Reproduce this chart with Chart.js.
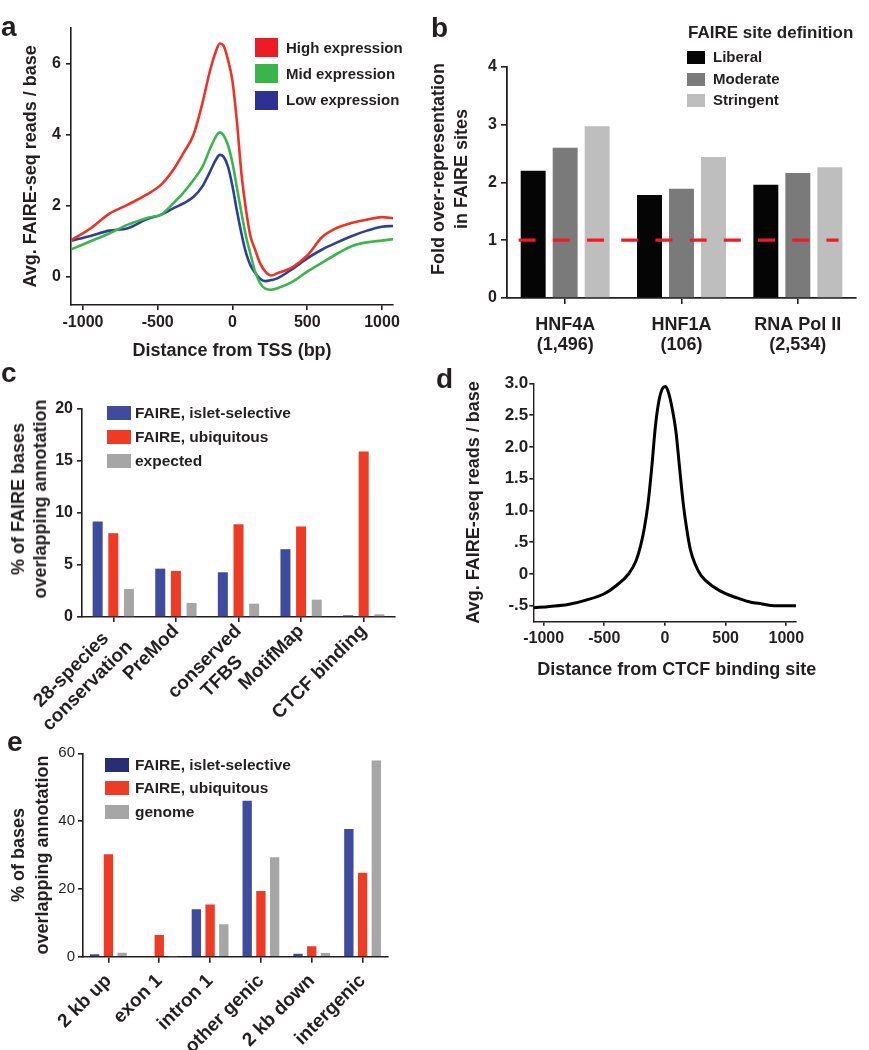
<!DOCTYPE html>
<html><head><meta charset="utf-8">
<title>FAIRE-seq figure</title>
<script src="https://cdn.jsdelivr.net/npm/chart.js@4.4.1/dist/chart.umd.min.js"></script>
<style>
html,body{margin:0;padding:0;background:#fff}
body{position:relative;width:869px;height:1050px;overflow:hidden;font-family:"Liberation Sans",Arial,Helvetica,sans-serif;color:#231f20}
canvas{position:absolute}
.lbl{position:absolute;font-weight:bold;white-space:nowrap}
.sw{position:absolute}
.letter{position:absolute;font-weight:bold;font-size:28px;line-height:28px}
.vt{position:absolute;font-weight:bold;font-size:18px;line-height:23px;text-align:center;white-space:nowrap;transform:translate(-50%,-50%) rotate(-90deg)}
.ht{position:absolute;font-weight:bold;font-size:18px;line-height:22px;white-space:nowrap;transform:translate(-50%,-50%)}
</style></head>
<body>
<canvas id="ca" width="420" height="370" style="left:0;top:0"></canvas>
<canvas id="cb" width="449" height="360" style="left:420px;top:0"></canvas>
<canvas id="cc" width="420" height="372" style="left:0;top:370px"></canvas>
<canvas id="cd" width="449" height="322" style="left:420px;top:360px"></canvas>
<canvas id="ce" width="420" height="330" style="left:0;top:720px"></canvas>
<script>
// ---------------- DATA ----------------
// Panel a: average FAIRE-seq reads around TSS by expression level
const aNames = ['High expression', 'Mid expression', 'Low expression'];
const aPos = [-1075,-950,-825,-700,-575,-475,-400,-325,-260,-200,-150,-110,-85,-60,-30,0,30,60,90,120,150,185,220,260,300,400,500,600,700,800,900,1000,1075];
const aHigh = [1.04,1.36,1.77,2.03,2.31,2.6,2.98,3.5,4.0,4.9,5.8,6.35,6.56,6.5,6.1,5.5,4.35,2.9,1.9,1.15,0.78,0.38,0.15,0.04,0.1,0.27,0.6,1.12,1.38,1.52,1.61,1.68,1.65];
const aMid = [0.78,1.0,1.22,1.47,1.65,1.76,2.05,2.38,2.73,3.1,3.6,3.95,4.06,3.98,3.7,3.2,2.5,1.8,1.15,0.65,0.17,-0.18,-0.33,-0.36,-0.32,-0.14,0.15,0.4,0.65,0.87,0.97,1.02,1.06];
const aLow = [1.02,1.15,1.3,1.37,1.62,1.75,1.92,2.07,2.25,2.55,2.96,3.3,3.43,3.38,3.1,2.55,1.85,1.22,0.68,0.33,0.12,-0.05,-0.12,-0.09,-0.04,0.22,0.52,0.77,0.97,1.15,1.3,1.41,1.43];
const aXTicks = [-1000,-500,0,500,1000];
const aYTicks = [0,2,4,6];

// Panel b: fold over-representation in FAIRE sites
const bCats = [['HNF4A','(1,496)'],['HNF1A','(106)'],['RNA Pol II','(2,534)']];
const bNames = ['Liberal','Moderate','Stringent'];
const bLiberal = [2.2,1.78,1.96];
const bModerate = [2.6,1.89,2.16];
const bStringent = [2.97,2.44,2.26];
const bBaseline = 1;            // expected (no enrichment) level
const bBaseX = [-0.4, 2.35];    // extent of the baseline, in category units
const bYTicks = [0,1,2,3,4];

// Panel c: % of FAIRE bases overlapping annotation
const cCats = [['28-species','conservation'],'PreMod',['conserved','TFBS'],'MotifMap','CTCF binding'];
const cNames = ['FAIRE, islet-selective','FAIRE, ubiquitous','expected'];
const cSelective = [9.18,4.65,4.3,6.52,0.16];
const cUbiquitous = [8.06,4.43,8.92,8.7,15.92];
const cExpected = [2.7,1.35,1.28,1.67,0.26];
const cYTicks = [0,5,10,15,20];

// Panel d: FAIRE-seq reads around CTCF binding sites
const dPos = [-1080,-950,-800,-650,-500,-400,-300,-240,-200,-170,-140,-110,-80,-50,-20,5,30,60,90,120,150,180,210,250,300,400,500,600,700,800,900,1000,1080];
const dVal = [-0.53,-0.51,-0.48,-0.41,-0.31,-0.18,0.0,0.2,0.45,0.72,1.1,1.65,2.3,2.72,2.92,2.95,2.85,2.6,2.25,1.68,1.12,0.7,0.38,0.15,-0.03,-0.2,-0.31,-0.38,-0.44,-0.47,-0.5,-0.5,-0.5];
const dXTicks = [-1000,-500,0,500,1000];
const dYTicks = [-0.5,0,0.5,1,1.5,2,2.5,3];
const dYLabels = ['-.5','0','.5','1.0','1.5','2.0','2.5','3.0'];

// Panel e: % of bases overlapping annotation
const eCats = ['2 kb up','exon 1','intron 1','other genic','2 kb down','intergenic'];
const eNames = ['FAIRE, islet-selective','FAIRE, ubiquitous','genome'];
const eSelective = [0.7,0,14.0,46.0,0.9,37.7];
const eUbiquitous = [30.2,6.4,15.4,19.4,3.05,24.8];
const eGenome = [1.2,0.1,9.6,29.3,1.1,57.9];
const eYTicks = [0,20,40,60];

// ---------------- STYLE ----------------
const INK = '#231f20';
const FONT = "'Liberation Sans', Arial, Helvetica, sans-serif";
Chart.defaults.font.family = FONT;
Chart.defaults.color = INK;
const aColors = ['#ee3224','#3db54a','#2e3f98'];
const aLegendColors = ['#ed1c24','#39b54a','#2e3192'];
const bColors = ['#050505','#7a7a7a','#bebebe'];
const cColors = ['#3f4c9e','#ee3b25','#a6a6a6'];
const eLegendColors = ['#272e75','#ee3b25','#a6a6a6'];

function bord(w){ return {display:true,color:INK,width:w||1.6}; }
function grd(tl){ return {display:true,drawOnChartArea:false,drawTicks:true,color:INK,lineWidth:1.6,tickLength:tl,offset:false}; }
function fixTicks(list){ return s => { s.ticks = list.map(v => ({value:v})); }; }
const baseOpts = {responsive:false, animation:false, devicePixelRatio:1,
  plugins:{legend:{display:false}, tooltip:{enabled:false}}};

const measureCtx = document.createElement('canvas').getContext('2d');
function centerLines(label, font){
  if (!Array.isArray(label)) return label;
  measureCtx.font = font;
  const w = label.map(l => measureCtx.measureText(l).width);
  const mx = Math.max(...w), sp = measureCtx.measureText(' ').width;
  return label.map((l,i) => l + ' '.repeat(Math.round((mx - w[i]) / 2 / sp)));
}

// ---------------- PANEL A ----------------
new Chart(document.getElementById('ca'), {
  type:'line',
  data:{datasets:[aHigh,aMid,aLow].map((arr,k)=>({
    label:aNames[k], data:aPos.map((x,i)=>({x, y:arr[i]})),
    borderColor:aColors[k], borderWidth:2.6, pointRadius:0, fill:false,
    cubicInterpolationMode:'monotone'}))},
  options:Object.assign({}, baseOpts, {
    layout:{padding:{left:0, top:27.8, right:26.8, bottom:0}},
    scales:{
      x:{type:'linear', min:-1080, max:1075, afterBuildTicks:fixTicks(aXTicks), afterFit:s=>{s.height=65;},
        ticks:{font:{size:16,weight:'bold'}, color:INK, padding:3, maxRotation:0, autoSkip:false, callback:v=>String(v)},
        grid:grd(5), border:bord(1.6),
        title:{display:true, text:'Distance from TSS (bp)', font:{size:18,weight:'bold'}, color:INK, padding:{top:0,bottom:8}}},
      y:{type:'linear', min:-0.79, max:7, afterBuildTicks:fixTicks(aYTicks), afterFit:s=>{s.width=71;},
        ticks:{font:{size:16,weight:'bold'}, color:INK, padding:5, callback:v=>String(v)},
        grid:grd(5), border:bord(1.6),
        title:{display:true, text:'Avg. FAIRE-seq reads / base', font:{size:18,weight:'bold'}, color:INK, padding:{top:20,bottom:0}}}
    }
  })
});

// ---------------- PANEL B ----------------
// dashed reference line at the baseline value, positioned through the chart's own scales
const baselinePlugin = {
  id:'bBaseline',
  afterDatasetsDraw(chart){
    const {ctx} = chart, xs = chart.scales.x, ys = chart.scales.y;
    const yPix = ys.getPixelForValue(bBaseline);
    ctx.save();
    ctx.strokeStyle = '#ed1c24'; ctx.lineWidth = 3.2; ctx.setLineDash([17,17.2]);
    ctx.beginPath();
    ctx.moveTo(xs.getPixelForValue(bBaseX[0]), yPix);
    ctx.lineTo(xs.getPixelForValue(bBaseX[1]), yPix);
    ctx.stroke();
    ctx.restore();
  }
};
new Chart(document.getElementById('cb'), {
  type:'bar',
  data:{labels:bCats, datasets:[bLiberal,bModerate,bStringent].map((arr,k)=>({
    label:bNames[k], data:arr, backgroundColor:bColors[k],
    categoryPercentage:0.825, barPercentage:0.78, borderWidth:0}))},
  options:Object.assign({}, baseOpts, {
    layout:{padding:{left:0, top:66.7, right:13, bottom:0}},
    scales:{
      x:{type:'category', afterFit:s=>{s.height=62;},
        ticks:{font:{size:18,weight:'bold',lineHeight:1.1}, color:INK, padding:11, maxRotation:0, autoSkip:false},
        grid:grd(6), border:bord(1.8)},
      y:{type:'linear', min:0, max:4, afterBuildTicks:fixTicks(bYTicks), afterFit:s=>{s.width=87;},
        ticks:{font:{size:16,weight:'bold'}, color:INK, padding:4, callback:v=>String(v)},
        grid:grd(6), border:bord(1.8)}
    }
  }),
  plugins:[baselinePlugin]
});

// ---------------- PANEL C ----------------
const rotFont = {size:19, weight:'bold'};
new Chart(document.getElementById('cc'), {
  type:'bar',
  data:{labels:cCats, datasets:[cSelective,cUbiquitous,cExpected].map((arr,k)=>({
    label:cNames[k], data:arr, backgroundColor:cColors[k], categoryPercentage:0.75, barPercentage:0.64, borderWidth:0}))},
  options:Object.assign({}, baseOpts, {
    layout:{padding:{left:0, top:39, right:25, bottom:0}},
    scales:{
      x:{type:'category', afterFit:s=>{s.height=125;},
        ticks:{font:rotFont, color:INK, padding:-2, minRotation:45, maxRotation:45, autoSkip:false,
          callback:function(v,i){ return centerLines(cCats[i], 'bold 19px ' + FONT); }},
        grid:grd(5), border:bord(1.6)},
      y:{type:'linear', min:0, max:20, afterBuildTicks:fixTicks(cYTicks), afterFit:s=>{s.width=82;},
        ticks:{font:{size:16,weight:'bold'}, color:INK, padding:4, callback:v=>String(v)},
        grid:grd(5), border:bord(1.6)}
    }
  })
});

// ---------------- PANEL D ----------------
new Chart(document.getElementById('cd'), {
  type:'line',
  data:{datasets:[{label:'CTCF', data:dPos.map((x,i)=>({x, y:dVal[i]})),
    borderColor:'#000', borderWidth:3, pointRadius:0, fill:false, cubicInterpolationMode:'monotone'}]},
  options:Object.assign({}, baseOpts, {
    layout:{padding:{left:0, top:23.3, right:73, bottom:0}},
    scales:{
      x:{type:'linear', min:-1085, max:1080, afterBuildTicks:fixTicks(dXTicks), afterFit:s=>{s.height=60.3;},
        ticks:{font:{size:16,weight:'bold'}, color:INK, padding:3, maxRotation:0, autoSkip:false, callback:v=>String(v)},
        grid:grd(4), border:bord(1.4)},
      y:{type:'linear', min:-0.75, max:3, afterBuildTicks:fixTicks(dYTicks), afterFit:s=>{s.width=113.3;},
        ticks:{font:{size:17,weight:'bold'}, color:INK, padding:1, callback:v=>dYLabels[dYTicks.indexOf(v)]},
        grid:grd(4), border:bord(1.4),
        title:{display:true, text:'Avg. FAIRE-seq reads / base', font:{size:18,weight:'bold'}, color:INK, padding:{top:43,bottom:0}}}
    }
  })
});

// ---------------- PANEL E ----------------
new Chart(document.getElementById('ce'), {
  type:'bar',
  data:{labels:eCats, datasets:[eSelective,eUbiquitous,eGenome].map((arr,k)=>({
    label:eNames[k], data:arr, backgroundColor:cColors[k], categoryPercentage:0.81, barPercentage:0.68, borderWidth:0}))},
  options:Object.assign({}, baseOpts, {
    layout:{padding:{left:0, top:33.3, right:32, bottom:0}},
    scales:{
      x:{type:'category', afterFit:s=>{s.height=93.3;},
        ticks:{font:rotFont, color:INK, padding:7, minRotation:45, maxRotation:45, autoSkip:false},
        grid:grd(6), border:bord(1.6)},
      y:{type:'linear', min:0, max:60, afterBuildTicks:fixTicks(eYTicks), afterFit:s=>{s.width=83;},
        ticks:{font:{size:15,weight:'normal'}, color:INK, padding:3, callback:v=>String(v)},
        grid:grd(5), border:bord(1.6),
        title:{display:true, text:['% of bases','overlapping annotation'], font:{size:18,weight:'bold',lineHeight:'24px'}, color:INK, padding:{top:7,bottom:0}}}
    }
  })
});

// ---------------- HTML TEXT: letters, legends, titles ----------------
function addDiv(cls, html, style){
  const d = document.createElement('div'); d.className = cls;
  if (html != null) d.innerHTML = html;
  Object.assign(d.style, style); document.body.appendChild(d); return d;
}
function legend(names, colors, boxLeft, boxW, boxH, textLeft, centers, fs){
  names.forEach((n,i)=>{
    addDiv('sw', null, {left:boxLeft+'px', top:(centers[i]-boxH/2)+'px', width:boxW+'px', height:boxH+'px', background:colors[i]});
    addDiv('lbl', n, {left:textLeft+'px', top:(centers[i]-10)+'px', fontSize:fs+'px', lineHeight:'20px'});
  });
}
[['a',1,13.3],['b',431,14.3],['c',1,359.3],['d',436,365.3],['e',7,728.3]].forEach(([t,x,y])=>
  addDiv('letter', t, {left:x+'px', top:y+'px'}));

legend(aNames, aLegendColors, 255, 23, 19, 286, [47.8,73.8,100.3], 15);
addDiv('lbl', 'FAIRE site definition', {left:'688px', top:'22px', fontSize:'17px', lineHeight:'22px'});
legend(bNames, bColors, 687, 18, 13, 713, [57,79.3,100.3], 15);
legend(cNames, cColors, 107, 24, 14, 135, [413,437,461], 15.5);
legend(eNames, eLegendColors, 105, 24, 14, 135, [764.5,788,812.3], 15.5);

addDiv('vt', 'Fold over-representation<br>in FAIRE sites', {left:'449.5px', top:'168.5px'});
addDiv('vt', '% of FAIRE bases<br>overlapping annotation', {left:'29px', top:'499px', lineHeight:'22px'});
addDiv('ht', 'Distance from CTCF binding site', {left:'676.7px', top:'669px'});
</script>
</body></html>
